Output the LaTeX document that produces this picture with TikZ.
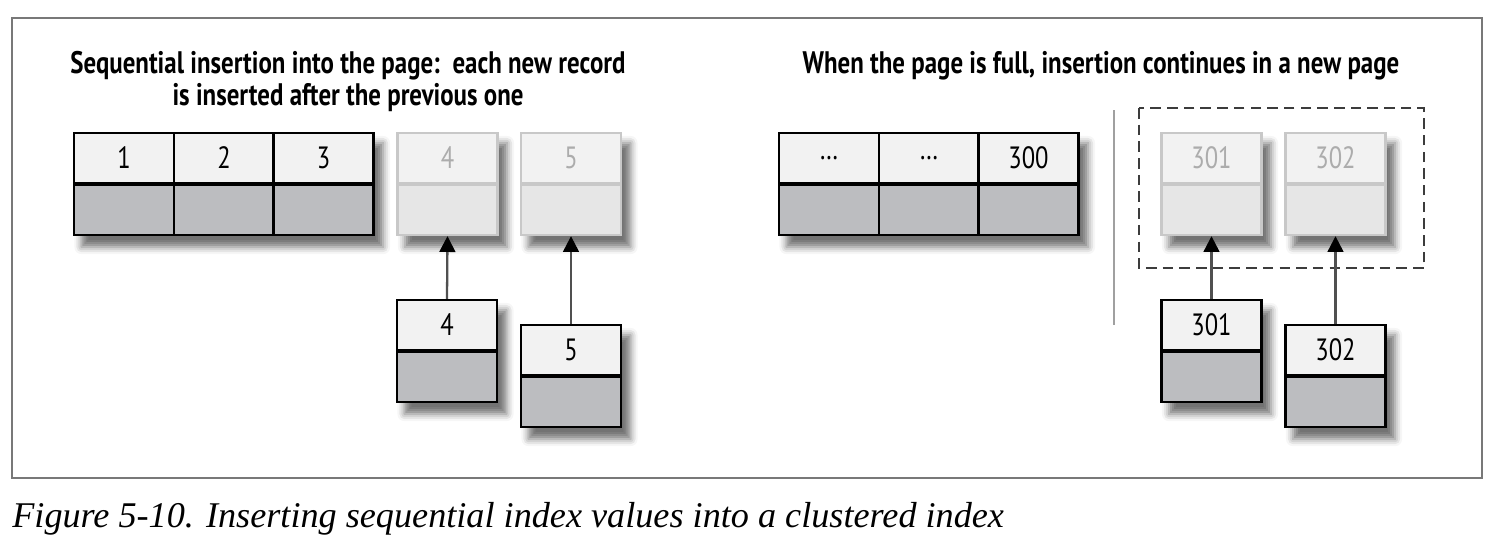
\documentclass[tikz,border=0pt]{standalone}
\usepackage{fontspec}
\setmainfont{Liberation Serif}
\newfontfamily\condfont[FakeStretch=0.8]{PT Sans}
\usetikzlibrary{positioning,shadows.blur,arrows.meta,backgrounds}
\definecolor{celltop}{RGB}{242,242,242}
\definecolor{cellbot}{RGB}{188,189,192}
\definecolor{ghostbot}{RGB}{230,230,230}
\definecolor{ghostline}{RGB}{200,200,200}
\definecolor{ghosttext}{RGB}{172,172,172}
\definecolor{frameline}{RGB}{120,120,120}
\definecolor{sepline}{RGB}{160,160,160}
\definecolor{arrowline}{RGB}{80,80,80}
\definecolor{dashline}{RGB}{60,60,60}
\tikzset{
  cell/.style={draw=black, line width=1.2pt, minimum width=2cm, minimum height=1cm,
    inner sep=0pt, font=\condfont\fontsize{17.5}{20}\selectfont},
  rectop/.style={cell, fill=celltop},
  recbot/.style={cell, fill=cellbot},
  ghtop/.style={cell, draw=ghostline, fill=celltop, text=ghosttext},
  ghbot/.style={cell, draw=ghostline, fill=ghostbot},
  pageshadow/.style={fill=white, blur shadow={shadow xshift=0.17cm, shadow yshift=-0.22cm,
    shadow blur radius=0.14cm, shadow opacity=55}},
  title/.style={font=\condfont\bfseries\fontsize{17.7}{17.8}\selectfont, align=center},
  insarrow/.style={-{Triangle[length=9pt,width=9pt,black]}, draw=arrowline, line width=1.3pt}
}

\begin{document}
\begin{tikzpicture}
    \useasboundingbox (0,0) rectangle (29.8,-10.88);
    \draw[frameline, line width=0.6pt] (0.24,-0.36) rectangle (29.64,-9.56);

    % titles
    \node[title] (lefttitle) at (6.96,-1.63)
      {Sequential insertion into the page:\ \ each new record\\is inserted after the previous one};
    \node[title] (righttitle) at (22.02,-1.32)
      {When the page is full, insertion continues in a new page};

    % left page
    \foreach \i/\x in {1/2.48, 2/4.48, 3/6.47} {
      \node[rectop] (lt\i) at (\x,-3.16) {\i};
      \node[recbot, below=0pt of lt\i] (lb\i) {};
    }
    \node[ghtop] (gt4) at (8.95,-3.16) {4};
    \node[ghbot, below=0pt of gt4] (gb4) {};
    \node[ghtop] (gt5) at (11.42,-3.16) {5};
    \node[ghbot, below=0pt of gt5] (gb5) {};

    \node[rectop] (nt4) at (8.94,-6.5) {4};
    \node[recbot, below=0pt of nt4] (nb4) {};
    \node[rectop] (nt5) at (11.42,-7.0) {5};
    \node[recbot, below=0pt of nt5] (nb5) {};

    \draw[insarrow] (nt4.north) -- (gb4.south);
    \draw[insarrow] (nt5.north) -- (gb5.south);

    % right page
    \foreach \i/\x/\t in {1/16.58/{\dots}, 2/18.58/{\dots}, 3/20.57/300} {
      \node[rectop] (rt\i) at (\x,-3.16) {\t};
      \node[recbot, below=0pt of rt\i] (rb\i) {};
    }
    \draw[sepline, line width=1pt] (22.28,-2.2) -- (22.28,-6.5);
    \draw[dashline, line width=1.6pt, dash pattern=on 6pt off 3.5pt] (22.78,-2.16) rectangle (28.48,-5.36);

    \node[ghtop] (gt301) at (24.23,-3.16) {301};
    \node[ghbot, below=0pt of gt301] (gb301) {};
    \node[ghtop] (gt302) at (26.71,-3.16) {302};
    \node[ghbot, below=0pt of gt302] (gb302) {};

    \node[rectop] (nt301) at (24.23,-6.5) {301};
    \node[recbot, below=0pt of nt301] (nb301) {};
    \node[rectop] (nt302) at (26.71,-7.0) {302};
    \node[recbot, below=0pt of nt302] (nb302) {};

    \draw[insarrow] (nt301.north) -- (gb301.south);
    \draw[insarrow] (nt302.north) -- (gb302.south);

    % shadows
    \begin{scope}[on background layer]
      \path[pageshadow] (lt1.north west) rectangle (lb3.south east);
      \path[pageshadow] (rt1.north west) rectangle (rb3.south east);
      \foreach \n in {4,5,301,302} {
        \path[pageshadow] (gt\n.north west) rectangle (gb\n.south east);
        \path[pageshadow] (nt\n.north west) rectangle (nb\n.south east);
      }
    \end{scope}

    \node[anchor=west, inner sep=0pt, font=\itshape\fontsize{20.6}{24}\selectfont] (caption) at (0.24,-10.38)
      {Figure 5-10. Inserting sequential index values into a clustered index};
  \end{tikzpicture}
\end{document}
